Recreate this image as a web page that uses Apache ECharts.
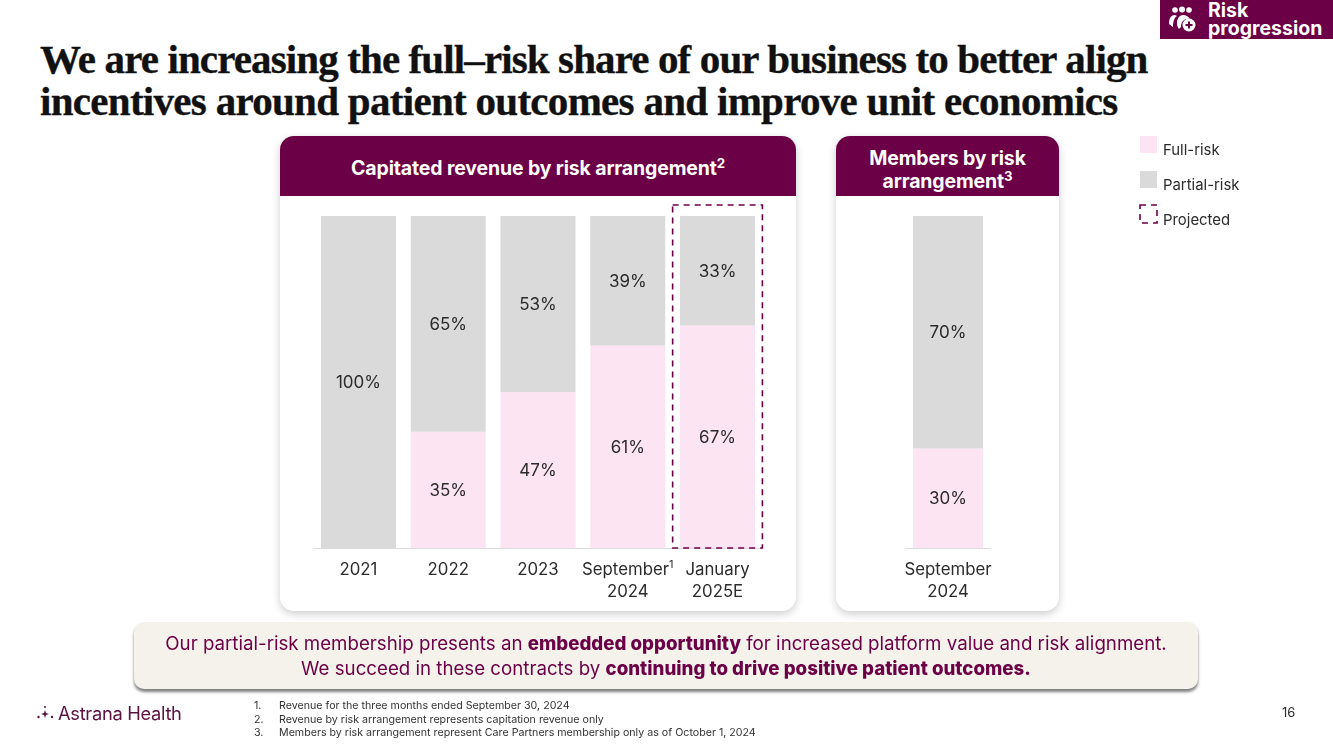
<!DOCTYPE html>
<html>
<head>
<meta charset="utf-8">
<style>
  html, body { margin: 0; padding: 0; background: #fff; }
  #slide { position: relative; width: 1333px; height: 749px; overflow: hidden; font-family: Inter, sans-serif; color: #2b2b2b; }
  #slide > div { position: absolute; white-space: nowrap; }
  #chart { left: 0; top: 0; width: 1333px; height: 749px; }
  .panel { background: #fff; border-radius: 14px; box-shadow: 0 3px 9px rgba(0,0,0,.2); top: 136px; height: 475px; }
  .head { background: #6b0046; color: #fff; border-radius: 14px 14px 0 0; top: 136px; height: 60px; box-sizing: border-box; padding-top: 4px; font-weight: 700; font-size: 19.5px; letter-spacing: -.15px; text-align: center; line-height: 23px; display: flex; align-items: center; justify-content: center; }
  sup { font-size: 68%; line-height: 0; }
  #title { left: 40px; top: 38px; font: 700 41px/42px "Liberation Serif", serif; color: #111; -webkit-text-stroke: .35px #111; }
  #title span { display: block; }
  #tag { left: 1160px; top: 0; width: 173px; height: 39px; background: #6b0046; color: #fff; }
  #tagText { left: 1208px; top: 1px; color: #fff; font-weight: 700; font-size: 19.5px; line-height: 18px; }
  #note { left: 134px; top: 622px; width: 1064px; height: 67px; background: #f5f2ec; border-radius: 10px; box-shadow: 0 3px 3px rgba(60,60,60,.65); color: #6b0046; font-size: 18.7px; line-height: 25px; text-align: center; padding-top: 9px; box-sizing: border-box; }
  #note b { font-weight: 800; }
  #logo { left: 58px; top: 702px; font-size: 18.3px; color: #5c1240; letter-spacing: -.3px; }
  #foot { left: 254px; top: 699px; font-size: 10.66px; line-height: 13.5px; color: #333; }
  #foot span { display: inline-block; width: 25px; }
  #page { left: 1282px; top: 704px; font-size: 13px; }
</style>
</head>
<body>
<div id="slide">
  <div id="title"><span style="letter-spacing:-.88px">We are increasing the full–risk share of our business to better align</span><span style="letter-spacing:-.7px">incentives around patient outcomes and improve unit economics</span></div>
  <div id="tag"></div>
  <svg style="position:absolute;left:1168px;top:4px" width="30" height="30" viewBox="0 0 30 30" fill="#fff">
    <circle cx="7" cy="6" r="2.8"/><circle cx="14" cy="5.5" r="3"/><circle cx="21" cy="6" r="2.8"/>
    <path d="M1 20c0-6 2-9 6-9l2 1c-3 2-4 6-4 11z"/><path d="M9 17c1-4 3-6 6-6s6 2 7 4c-5-1-9 2-9 8l-2 2c-2-2-2-5-2-8z"/>
    <circle cx="21" cy="21" r="6.5"/>
    <path d="M20 17.5h2v2.5h2.500v2h-2.500v2.500h-2v-2.500h-2.500v-2h2.500z" fill="#6b0046"/>
  </svg>
  <div id="tagText">Risk<br>progression</div>

  <div class="panel" style="left:280px;width:516px"></div>
  <div class="panel" style="left:836px;width:223px"></div>
  <div class="head" style="left:280px;width:516px"><span>Capitated revenue by risk arrangement<sup>2</sup></span></div>
  <div class="head" style="left:836px;width:223px;padding-top:8px;white-space:normal"><span>Members by risk<br>arrangement<sup>3</sup></span></div>

  <div id="chart"></div>

  <div id="note">Our partial-risk membership presents an <b>embedded opportunity</b> for increased platform value and risk alignment.<br>We succeed in these contracts by <b>continuing to drive positive patient outcomes.</b></div>
  <svg style="position:absolute;left:37px;top:705px" width="18" height="14" viewBox="0 0 18 14" fill="#5c1240">
    <circle cx="1.5" cy="12" r="1.2"/><circle cx="15" cy="12" r="1.2"/><circle cx="8" cy="2" r="1"/>
    <path d="M8 5l1 3 3 1-3 1-1 3-1-3-3-1 3-1z"/>
  </svg>
  <div id="logo">Astrana Health</div>
  <div id="foot"><span>1.</span>Revenue for the three months ended September 30, 2024<br><span>2.</span>Revenue by risk arrangement represents capitation revenue only<br><span>3.</span>Members by risk arrangement represent Care Partners membership only as of October 1, 2024</div>
  <div id="page">16</div>
</div>
<script src="https://cdn.jsdelivr.net/npm/echarts@6/dist/echarts.min.js"></script>
<script>
const revenueCategories = ['2021', '2022', '2023', 'September{sup|1}\n2024', 'January\n2025E'];
const revenueFullRisk = [0, 35, 47, 61, 67];
const revenuePartialRisk = [100, 65, 53, 39, 33];
const memberCategories = ['September\n2024'];
const memberFullRisk = [30];
const memberPartialRisk = [70];

const FULL_COLOR = '#fce4f3';
const PARTIAL_COLOR = '#dadada';
const DASH_COLOR = '#6b0046';
const TEXT_COLOR = '#2b2b2b';

const percentLabel = {
  show: true,
  position: 'inside',
  offset: [0, 1],
  color: TEXT_COLOR,
  fontFamily: 'Inter',
  fontSize: 17,
  formatter: function (p) {
    return p.value > 0 ? p.value + '%' : '';
  }
};

const xAxisFor = (index, data) => ({
  type: 'category',
  gridIndex: index,
  data: data,
  axisTick: { show: false },
  axisLine: { lineStyle: { color: '#dcdcdc', width: 1 } },
  axisLabel: {
    color: TEXT_COLOR,
    fontFamily: 'Inter',
    fontSize: 16.8,
    lineHeight: 22,
    margin: 11,
    interval: 0,
    rich: { sup: { fontSize: 11, verticalAlign: 'top', color: TEXT_COLOR, fontFamily: 'Inter', padding: [0, 0, 8, 0] } }
  }
});

const yAxisFor = (index) => ({
  type: 'value',
  gridIndex: index,
  min: 0,
  max: 100,
  show: false
});

const barSeries = (name, axis, values, color, width) => ({
  name: name,
  type: 'bar',
  stack: 'share' + axis,
  xAxisIndex: axis,
  yAxisIndex: axis,
  barWidth: width,
  data: values,
  itemStyle: { color: color },
  label: percentLabel
});

var myChart = echarts.init(document.getElementById('chart'));

var option = {
  backgroundColor: 'transparent',
  animation: false,
  grid: [
    { left: 313.6, width: 448.8, top: 216, height: 332 },
    { left: 905.5, width: 85, top: 216, height: 332 }
  ],
  xAxis: [xAxisFor(0, revenueCategories), xAxisFor(1, memberCategories)],
  yAxis: [yAxisFor(0), yAxisFor(1)],
  legend: {
    left: 1135,
    top: 131,
    orient: 'vertical',
    itemWidth: 17,
    itemHeight: 17,
    itemGap: 13,
    icon: 'rect',
    selectedMode: false,
    data: ['Full-risk', 'Partial-risk'],
    formatter: '{t|{name}}',
    textStyle: {
      rich: { t: { color: TEXT_COLOR, fontFamily: 'Inter', fontSize: 14.9, padding: [12, 0, 0, 1] } }
    }
  },
  series: [
    barSeries('Full-risk', 0, revenueFullRisk, FULL_COLOR, 75),
    barSeries('Partial-risk', 0, revenuePartialRisk, PARTIAL_COLOR, 75),
    barSeries('Full-risk', 1, memberFullRisk, FULL_COLOR, 70),
    barSeries('Partial-risk', 1, memberPartialRisk, PARTIAL_COLOR, 70)
  ]
};
myChart.setOption(option);

// dashed box around the projected bar, placed from the axis scale
const projected = revenueCategories.length - 1;
const bandWidth = myChart.getModel().getComponent('xAxis', 0).axis.getBandWidth();
const centerX = myChart.convertToPixel({ xAxisIndex: 0 }, projected);
const topY = myChart.convertToPixel({ yAxisIndex: 0 }, 100) - 11;
const bottomY = myChart.convertToPixel({ yAxisIndex: 0 }, 0);
const dash = { stroke: DASH_COLOR, lineWidth: 1.6, lineDash: [6, 5], fill: 'transparent' };

myChart.setOption({
  graphic: [
    {
      type: 'rect',
      z: 20,
      shape: { x: centerX - bandWidth / 2, y: topY, width: bandWidth, height: bottomY - topY },
      style: dash
    },
    {
      type: 'rect',
      z: 20,
      shape: { x: 1140, y: 205, width: 17, height: 18 },
      style: dash
    },
    {
      type: 'text',
      z: 20,
      x: 1163,
      y: 213,
      style: { text: 'Projected', fill: TEXT_COLOR, font: '14.9px Inter' }
    }
  ]
});
</script>
</body>
</html>
